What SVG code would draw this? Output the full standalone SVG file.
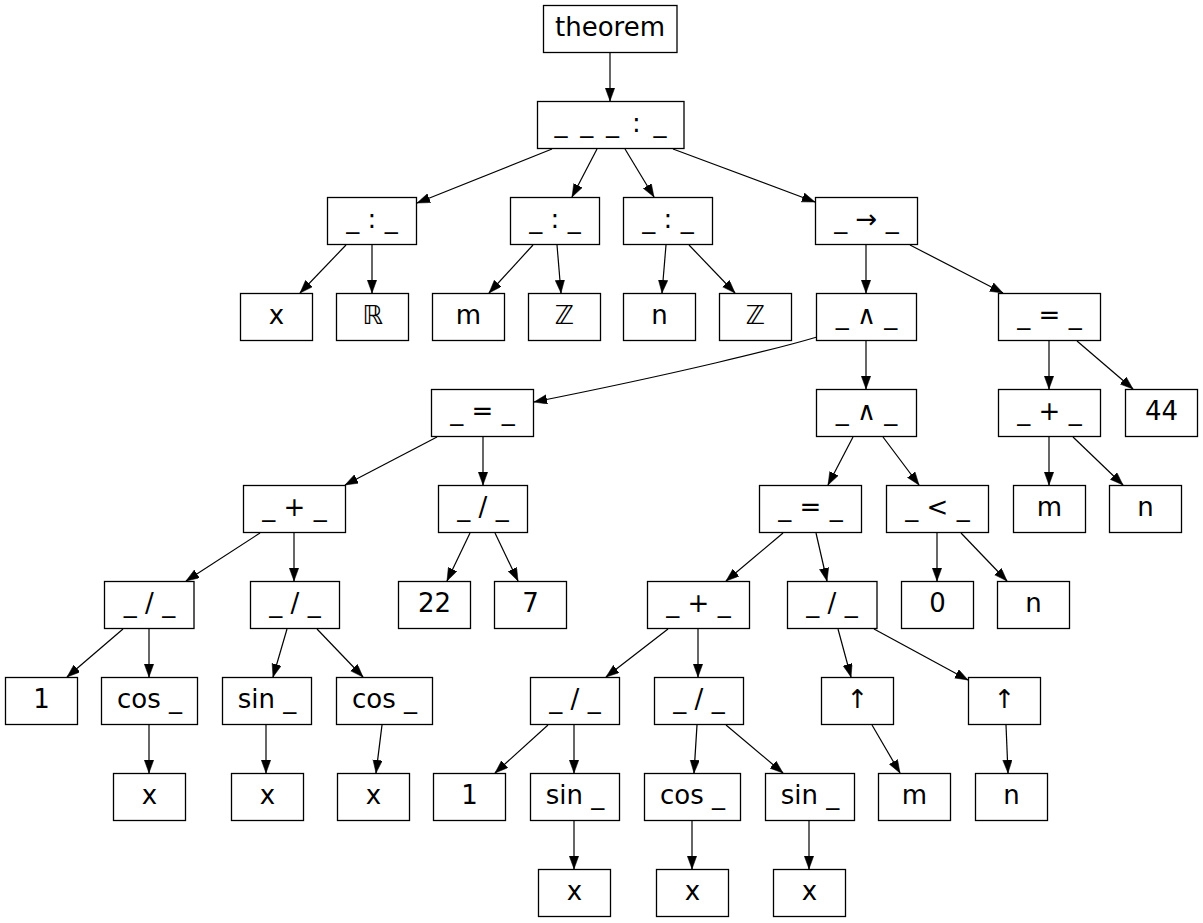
<svg xmlns="http://www.w3.org/2000/svg" width="1203" height="923" viewBox="0 0 1203 923">
<style>
.n rect{fill:#fff;stroke:#000;stroke-width:1.3}
.n text{font-family:"DejaVu Sans","Liberation Sans",sans-serif;font-size:26px;text-anchor:middle;fill:#000}
.e path{stroke:#000;stroke-width:1.2;fill:none;marker-end:url(#ah)}
</style>
<defs>
<marker id="ah" markerUnits="userSpaceOnUse" markerWidth="14" markerHeight="10" refX="13" refY="4.7" orient="auto" viewBox="0 0 14 10">
<path d="M0,0 L13,4.7 L0,9.4 Z" fill="#000" stroke="#000" stroke-width="0.5"/>
</marker>
</defs>
<rect width="1203" height="923" fill="#fff"/>
<g id="edges" class="e">
<path d="M610,53 L610,101"/>
<path d="M552,149 L417,203"/>
<path d="M597,149 L572,197"/>
<path d="M625,149 L654,197"/>
<path d="M673,149 L815,202"/>
<path d="M346,245 L300,293"/>
<path d="M372,245 L372,293"/>
<path d="M533,245 L489,293"/>
<path d="M557,245 L561,293"/>
<path d="M666,245 L662,293"/>
<path d="M689,245 L735,293"/>
<path d="M866,245 L866,293"/>
<path d="M910,245 L1003,293"/>
<path d="M817,337 C780,348 680,373 534,402"/>
<path d="M866,341 L866,389"/>
<path d="M1049,341 L1049,389"/>
<path d="M1077,341 L1133,389"/>
<path d="M437,437 L345,485"/>
<path d="M483,437 L483,485"/>
<path d="M853,437 L828,485"/>
<path d="M883,437 L919,485"/>
<path d="M1049,437 L1049,485"/>
<path d="M1073,437 L1123,485"/>
<path d="M260,533 L186,581"/>
<path d="M294,533 L294,581"/>
<path d="M470,533 L447,581"/>
<path d="M495,533 L518,581"/>
<path d="M783,533 L726,581"/>
<path d="M816,533 L827,581"/>
<path d="M937,533 L937,581"/>
<path d="M961,533 L1007,581"/>
<path d="M123,629 L67,677"/>
<path d="M149,629 L149,677"/>
<path d="M287,629 L273,677"/>
<path d="M317,629 L363,677"/>
<path d="M149,725 L149,773"/>
<path d="M266,725 L266,773"/>
<path d="M382,725 L376,773"/>
<path d="M668,629 L606,677"/>
<path d="M698,629 L698,677"/>
<path d="M838,629 L851,677"/>
<path d="M874,629 L968,680"/>
<path d="M548,725 L495,773"/>
<path d="M574,725 L574,773"/>
<path d="M697,725 L694,773"/>
<path d="M726,725 L783,773"/>
<path d="M872,725 L900,773"/>
<path d="M1006,725 L1008,773"/>
<path d="M574,821 L574,869"/>
<path d="M692,821 L692,869"/>
<path d="M809,821 L809,869"/>
</g>
<g id="n_theorem" class="n"><rect x="543.5" y="5.5" width="133.5" height="47"/><text x="610" y="36">theorem</text></g>
<g id="n_forall" class="n"><rect x="537.5" y="101.5" width="146.5" height="47"/><text x="610.5" y="132" textLength="112" lengthAdjust="spacing">_ _ _ : _</text></g>
<g id="n_colR" class="n"><rect x="327.5" y="197.5" width="89" height="47"/><text x="372" y="228">_ : _</text></g>
<g id="n_colm" class="n"><rect x="510.5" y="197.5" width="89" height="47"/><text x="555" y="228">_ : _</text></g>
<g id="n_coln" class="n"><rect x="623.5" y="197.5" width="89" height="47"/><text x="668" y="228">_ : _</text></g>
<g id="n_imp" class="n"><rect x="815.5" y="197.5" width="102" height="47"/><text x="866.5" y="228">_ → _</text></g>
<g id="n_x0" class="n"><rect x="240.5" y="293.5" width="72" height="47"/><text x="276.5" y="324">x</text></g>
<g id="n_R" class="n"><rect x="336.5" y="293.5" width="72" height="47"/><text x="372.5" y="324">ℝ</text></g>
<g id="n_m0" class="n"><rect x="432.5" y="293.5" width="72" height="47"/><text x="468.5" y="324">m</text></g>
<g id="n_Z0" class="n"><rect x="528.5" y="293.5" width="72" height="47"/><text x="564.5" y="324">ℤ</text></g>
<g id="n_n0" class="n"><rect x="623.5" y="293.5" width="72" height="47"/><text x="659.5" y="324">n</text></g>
<g id="n_Z1" class="n"><rect x="719.5" y="293.5" width="72" height="47"/><text x="755.5" y="324">ℤ</text></g>
<g id="n_and1" class="n"><rect x="816.5" y="293.5" width="100" height="47"/><text x="866.5" y="324">_ ∧ _</text></g>
<g id="n_eq1" class="n"><rect x="998.5" y="293.5" width="102" height="47"/><text x="1049.5" y="324">_ = _</text></g>
<g id="n_eq2" class="n"><rect x="431.5" y="389.5" width="102" height="47"/><text x="482.5" y="420">_ = _</text></g>
<g id="n_and2" class="n"><rect x="816.5" y="389.5" width="100" height="47"/><text x="866.5" y="420">_ ∧ _</text></g>
<g id="n_plus1" class="n"><rect x="998.5" y="389.5" width="102" height="47"/><text x="1049.5" y="420">_ + _</text></g>
<g id="n_44" class="n"><rect x="1125.5" y="389.5" width="72" height="47"/><text x="1161.5" y="420">44</text></g>
<g id="n_plus2" class="n"><rect x="243.5" y="485.5" width="102" height="47"/><text x="294.5" y="516">_ + _</text></g>
<g id="n_div1" class="n"><rect x="438.5" y="485.5" width="89" height="47"/><text x="483" y="516">_ / _</text></g>
<g id="n_eq3" class="n"><rect x="759.5" y="485.5" width="102" height="47"/><text x="810.5" y="516">_ = _</text></g>
<g id="n_lt" class="n"><rect x="886.5" y="485.5" width="102" height="47"/><text x="937.5" y="516">_ &lt; _</text></g>
<g id="n_m1" class="n"><rect x="1013.5" y="485.5" width="72" height="47"/><text x="1049.5" y="516">m</text></g>
<g id="n_n1" class="n"><rect x="1109.5" y="485.5" width="72" height="47"/><text x="1145.5" y="516">n</text></g>
<g id="n_div2" class="n"><rect x="104.5" y="581.5" width="89.5" height="47"/><text x="149.5" y="612">_ / _</text></g>
<g id="n_div3" class="n"><rect x="250.5" y="581.5" width="89" height="47"/><text x="295" y="612">_ / _</text></g>
<g id="n_22" class="n"><rect x="398.5" y="581.5" width="72" height="47"/><text x="434.5" y="612">22</text></g>
<g id="n_7" class="n"><rect x="494.5" y="581.5" width="72" height="47"/><text x="530.5" y="612">7</text></g>
<g id="n_plus3" class="n"><rect x="647.5" y="581.5" width="102" height="47"/><text x="698.5" y="612">_ + _</text></g>
<g id="n_div4" class="n"><rect x="787.5" y="581.5" width="89.5" height="47"/><text x="832" y="612">_ / _</text></g>
<g id="n_0" class="n"><rect x="901.5" y="581.5" width="72" height="47"/><text x="937.5" y="612">0</text></g>
<g id="n_n2" class="n"><rect x="997.5" y="581.5" width="72" height="47"/><text x="1033.5" y="612">n</text></g>
<g id="n_1a" class="n"><rect x="5.5" y="677.5" width="72" height="47"/><text x="41.5" y="708">1</text></g>
<g id="n_cos1" class="n"><rect x="101.5" y="677.5" width="96" height="47"/><text x="149.5" y="708">cos _</text></g>
<g id="n_sin1" class="n"><rect x="222.5" y="677.5" width="89" height="47"/><text x="267" y="708">sin _</text></g>
<g id="n_cos2" class="n"><rect x="336.5" y="677.5" width="96" height="47"/><text x="384.5" y="708">cos _</text></g>
<g id="n_div5" class="n"><rect x="530.5" y="677.5" width="89" height="47"/><text x="575" y="708">_ / _</text></g>
<g id="n_div6" class="n"><rect x="654.5" y="677.5" width="89" height="47"/><text x="699" y="708">_ / _</text></g>
<g id="n_up1" class="n"><rect x="821.5" y="677.5" width="72" height="47"/><text x="857.5" y="708">↑</text></g>
<g id="n_up2" class="n"><rect x="968.5" y="677.5" width="72" height="47"/><text x="1004.5" y="708">↑</text></g>
<g id="n_x1" class="n"><rect x="113.5" y="773.5" width="72" height="47"/><text x="149.5" y="804">x</text></g>
<g id="n_x2" class="n"><rect x="231.5" y="773.5" width="72" height="47"/><text x="267.5" y="804">x</text></g>
<g id="n_x3" class="n"><rect x="337.5" y="773.5" width="72" height="47"/><text x="373.5" y="804">x</text></g>
<g id="n_1b" class="n"><rect x="433.5" y="773.5" width="72" height="47"/><text x="469.5" y="804">1</text></g>
<g id="n_sin2" class="n"><rect x="530.5" y="773.5" width="89" height="47"/><text x="575" y="804">sin _</text></g>
<g id="n_cos3" class="n"><rect x="644.5" y="773.5" width="96" height="47"/><text x="692.5" y="804">cos _</text></g>
<g id="n_sin3" class="n"><rect x="765.5" y="773.5" width="89" height="47"/><text x="810" y="804">sin _</text></g>
<g id="n_m2" class="n"><rect x="878.5" y="773.5" width="72" height="47"/><text x="914.5" y="804">m</text></g>
<g id="n_n3" class="n"><rect x="975.5" y="773.5" width="72" height="47"/><text x="1011.5" y="804">n</text></g>
<g id="n_x4" class="n"><rect x="538.5" y="869.5" width="72" height="47"/><text x="574.5" y="900">x</text></g>
<g id="n_x5" class="n"><rect x="656.5" y="869.5" width="72" height="47"/><text x="692.5" y="900">x</text></g>
<g id="n_x6" class="n"><rect x="773.5" y="869.5" width="72" height="47"/><text x="809.5" y="900">x</text></g>
</svg>
